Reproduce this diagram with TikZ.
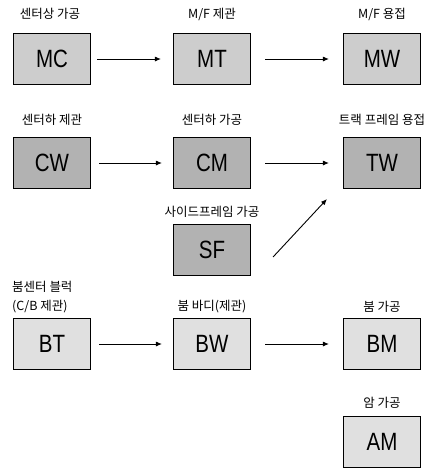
\documentclass[tikz,border=0pt]{standalone}
\usepackage{fontspec}
\setmainfont{Liberation Sans}
\newfontfamily\kr{Noto Sans CJK KR}
\usetikzlibrary{arrows.meta,positioning}
\definecolor{gA}{HTML}{CDCDCD}
\definecolor{gB}{HTML}{B2B2B2}
\definecolor{gC}{HTML}{E0E0E0}
\newcommand{\bx}[1]{\scalebox{0.82}[1]{#1}}
\tikzset{
  box/.style={draw=black,line width=1.1pt,minimum width=77pt,minimum height=51pt,inner sep=0pt,
    font=\fontsize{25}{25}\selectfont},
  lbl/.style={font=\kr\fontsize{12.5}{14}\selectfont,inner sep=0pt},
  flow/.style={line width=0.9pt,-{Latex[length=6pt,width=5pt]}}
}
\begin{document}
\begin{tikzpicture}[x=1pt,y=-1pt]
\useasboundingbox (0,0) rectangle (435,475);
% row 1
\node[box,fill=gA] (MC) at (52,59) {\bx{MC}};
\node[box,fill=gA] (MT) at (212,59) {\bx{MT}};
\node[box,fill=gA] (MW) at (382,59) {\bx{MW}};
% row 2
\node[box,fill=gB] (CW) at (52,163) {\bx{CW}};
\node[box,fill=gB] (CM) at (212,163) {\bx{CM}};
\node[box,fill=gB] (TW) at (382,163) {\bx{TW}};
\node[box,fill=gB] (SF) at (212,250) {\bx{SF}};
% row 3
\node[box,fill=gC] (BT) at (52,344) {\bx{BT}};
\node[box,fill=gC] (BW) at (212,344) {\bx{BW}};
\node[box,fill=gC] (BM) at (382,344) {\bx{BM}};
\node[box,fill=gC] (AM) at (382,442) {\bx{AM}};
% labels
\node[lbl] (lMC) at (50,14) {센터상 가공};
\node[lbl] (lMT) at (212,14) {M/F 제관};
\node[lbl] (lMW) at (382,14) {M/F 용접};
\node[lbl] (lCW) at (52,120) {센터하 제관};
\node[lbl] (lCM) at (212,120) {센터하 가공};
\node[lbl] (lTW) at (382,120) {트랙 프레임 용접};
\node[lbl] (lSF) at (212,212) {사이드프레임 가공};
\node[lbl,anchor=west] (lBT1) at (12,287) {붐센터 블럭};
\node[lbl,anchor=west] (lBT2) at (12,307) {(C/B 제관)};
\node[lbl] (lBW) at (212,307) {붐 바디(제관)};
\node[lbl] (lBM) at (382,307) {붐 가공};
\node[lbl] (lAM) at (382,403) {암 가공};
% arrows
\draw[flow,shorten <=6pt,shorten >=12pt] (MC) -- (MT);
\draw[flow,shorten <=14pt,shorten >=14pt] (MT) -- (MW);
\draw[flow,shorten <=8pt,shorten >=11pt] (CW) -- (CM);
\draw[flow,shorten <=14pt,shorten >=14pt] (CM) -- (TW);
\draw[flow,shorten <=8pt,shorten >=11pt] (BT) -- (BW);
\draw[flow,shorten <=14pt,shorten >=14pt] (BW) -- (BM);
\coordinate (s1) at ([xshift=22pt,yshift=-7pt]SF.east);
\coordinate (s2) at ([xshift=-16pt,yshift=-10pt]TW.south west);
\draw[flow] (s1) -- (s2);
\end{tikzpicture}
\end{document}
